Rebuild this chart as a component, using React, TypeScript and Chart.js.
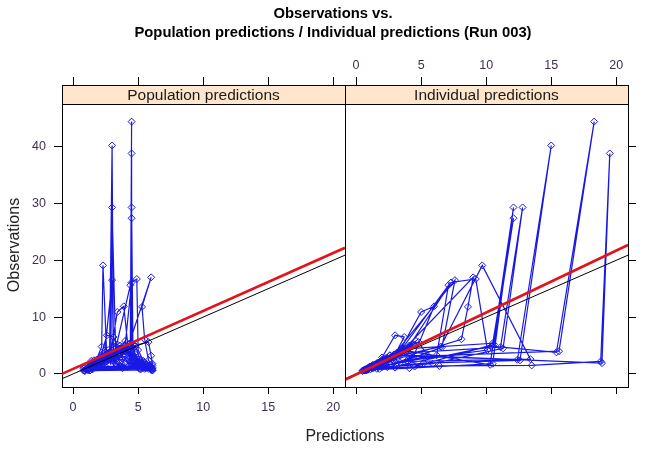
import React, { useEffect, useRef } from "react";
import { Chart, registerables } from "chart.js";

Chart.register(...registerables);

// ---- data (one line per subject, in data order) ----
const OBS = [
  0.6, 1.4, 2.5, 4.8, 19.1, 2.6, 2.2, 1.3,
  0.9, 1.7, 3.3, 2.5, 40.2, 2.4, 1.9, 1.2,
  1.3, 2.4, 4.2, 1.6, 29.3, 1.8, 1.0,
  0.7, 1.5, 2.9, 4.0, 44.4, 3.8, 4.9, 1.4, 0.9,
  1.0, 2.2, 3.4, 1.9, 38.8, 2.2, 1.5, 1.4, 1.1,
  0.8, 1.9, 3.6, 4.7, 29.3, 4.5, 1.8, 1.2,
  1.1, 2.3, 4.4, 5.4, 27.4, 5.2, 1.3, 0.9,
  0.6, 1.6, 3.1, 16.5, 4.7, 2.0, 1.2,
  1.2, 2.7, 5.0, 16.1, 16.7, 4.2, 2.3, 1.3,
  0.9, 2.1, 3.9, 17.0, 11.8, 6.1, 2.4, 1.5,
  0.7, 1.8, 3.7, 15.6, 3.3, 1.7, 1.0,
  1.0, 2.0, 3.8, 10.9, 11.9, 3.0, 1.4, 0.8,
  0.5, 1.3, 2.9, 6.8, 6.5, 2.6, 1.5, 0.9,
  1.2, 2.5, 4.3, 5.6, 3.2, 1.8, 1.1,
  0.8, 1.9, 3.4, 5.0, 3.9, 2.4, 1.6, 1.0,
  1.4, 2.8, 4.1, 3.6, 2.7, 1.9, 1.2, 0.7,
  0.6, 1.5, 2.6, 4.6, 3.1, 2.0, 1.3, 0.8,
  1.0, 2.3, 3.5, 2.9, 2.2, 1.6, 1.1, 0.6,
  0.9, 2.0, 3.2, 4.5, 3.5, 2.6, 1.7, 1.1,
  0.7, 1.6, 2.8, 3.9, 5.8, 3.0, 2.1, 1.4,
  1.3, 2.6, 3.7, 4.2, 3.3, 2.5, 1.6, 0.9,
  0.8, 1.8, 2.7, 3.1, 2.4, 1.8, 1.2, 0.7,
  1.1, 2.4, 3.9, 5.2, 4.1, 2.9, 2.0, 1.3,
];

const PRED = [
  0.9, 1.3, 1.8, 2.2, 2.3, 2.6, 3.1, 3.6,
  1.1, 1.6, 2.2, 2.8, 3.0, 3.1, 3.4, 3.9,
  1.4, 2.0, 2.7, 2.9, 3.0, 3.3, 3.8,
  1.2, 2.1, 3.3, 4.4, 4.5, 4.4, 4.8, 5.3, 5.8,
  1.5, 2.4, 3.6, 4.4, 4.5, 4.5, 5.0, 5.6, 6.1,
  1.0, 1.9, 3.5, 4.4, 4.5, 4.6, 5.1, 5.7,
  1.3, 2.2, 3.8, 4.4, 4.5, 4.6, 5.0, 5.5,
  0.8, 1.5, 2.4, 3.0, 3.1, 3.6, 4.2,
  1.6, 2.8, 4.0, 4.5, 4.9, 5.0, 5.4, 5.9,
  1.4, 2.5, 4.1, 6.0, 5.3, 5.5, 5.8, 6.1,
  1.1, 1.8, 3.2, 4.4, 4.5, 4.8, 5.3,
  1.2, 2.0, 2.9, 3.4, 3.9, 4.3, 4.7, 5.2,
  0.9, 1.5, 2.1, 2.6, 3.1, 3.8, 4.5, 5.1,
  1.7, 2.6, 3.5, 5.8, 6.0, 6.1, 5.9,
  1.0, 1.7, 2.7, 3.6, 4.0, 4.6, 5.1, 5.6,
  2.0, 2.9, 3.7, 4.2, 4.7, 5.2, 5.7, 6.1,
  1.3, 2.2, 3.0, 3.9, 4.3, 4.9, 5.4, 6.0,
  0.8, 1.4, 2.3, 3.2, 4.1, 4.8, 5.5, 6.1,
  1.1, 1.9, 2.8, 3.7, 4.4, 5.0, 5.6, 6.0,
  1.2, 1.8, 2.5, 3.3, 4.0, 4.7, 5.3, 5.9,
  1.0, 2.1, 3.0, 3.8, 4.6, 5.2, 5.7, 6.1,
  1.5, 2.3, 3.1, 3.9, 4.6, 5.1, 5.6, 6.0,
  0.9, 1.6, 2.5, 3.4, 4.2, 4.9, 5.5, 6.0,
];

const IPRED = [
  0.7, 1.2, 2.0, 6.5, 9.7, 13.4, 4.0, 1.6,
  0.8, 1.5, 2.6, 12.4, 15.0, 12.6, 5.2, 2.4,
  1.1, 2.1, 3.6, 10.3, 12.1, 10.5, 4.1,
  0.6, 1.4, 2.7, 15.6, 18.3, 15.4, 10.4, 3.1, 1.6,
  0.9, 1.9, 3.0, 18.9, 19.5, 18.8, 13.5, 6.4, 3.0,
  0.8, 1.8, 3.2, 11.1, 12.8, 11.3, 5.9, 2.0,
  1.0, 2.2, 3.8, 10.5, 12.1, 10.6, 4.5, 1.8,
  0.5, 1.3, 2.8, 7.6, 6.6, 3.4, 1.5,
  1.0, 2.4, 4.1, 7.3, 9.2, 10.1, 3.9, 1.7,
  0.8, 2.0, 3.5, 9.0, 8.6, 8.1, 2.9, 1.9,
  0.7, 1.7, 3.3, 7.1, 6.2, 2.6, 1.3,
  0.9, 1.8, 3.3, 5.0, 6.0, 4.4, 2.3, 1.1,
  0.5, 1.1, 2.0, 3.0, 3.7, 2.8, 1.6, 0.9,
  1.1, 2.3, 3.6, 4.8, 5.5, 3.1, 1.4,
  0.9, 1.6, 2.9, 4.2, 3.8, 2.5, 1.7, 1.2,
  1.3, 2.6, 3.7, 3.4, 2.6, 1.9, 1.3, 0.8,
  0.6, 1.5, 2.5, 4.0, 3.0, 2.1, 1.4, 0.9,
  1.0, 2.1, 3.2, 2.7, 2.1, 1.5, 1.0, 0.7,
  0.8, 1.7, 2.6, 3.6, 3.2, 2.3, 1.6, 1.0,
  0.9, 1.4, 2.3, 3.3, 4.6, 2.8, 1.9, 1.3,
  1.1, 2.2, 3.1, 3.7, 3.1, 2.4, 1.5, 0.9,
  0.7, 1.6, 2.4, 2.9, 2.3, 1.7, 1.2, 0.8,
  1.0, 2.0, 3.4, 4.4, 3.9, 2.7, 1.8, 1.2,
];

const X_TICKS = [0, 5, 10, 15, 20];
const Y_TICKS = [0, 10, 20, 30, 40];
const X_LIMITS = [-0.85, 20.9];
const Y_LIMITS = [-2.3, 47.5];
const POP_FIT = [0.88, 1.02]; // intercept, slope
const IND_FIT = [-0.1, 1.09];
const STRIP_LABELS = ["Population predictions", "Individual predictions"];
const TITLE_LINES = ["Observations vs.", "Population predictions / Individual predictions (Run 003)"];
const X_TITLE = "Predictions";
const Y_TITLE = "Observations";

// ---- styling / layout ----
const W = 648;
const H = 452;
const LEFT_AXIS_W = 62;
const RIGHT_AXIS_W = 20;
const TOP_H = 104;
const BOTTOM_H = 65;
const STRIP_H = 19;
const BLUE = "#1818e6";
const TICK_COLOR = "#3f3050";
const FONT = "'Liberation Sans', Arial, Helvetica, sans-serif";

const fitLine = (fit: number[]) =>
  X_LIMITS.map((x) => ({ x, y: fit[0] + fit[1] * x }));

function xScale(position: string, stack: string, weight: number, showLabels: boolean, tickLen: number, height: number, pad: number) {
  return {
    type: "linear",
    axis: "x",
    position,
    stack,
    weight,
    min: X_LIMITS[0],
    max: X_LIMITS[1],
    afterBuildTicks: (s: any) => {
      s.ticks = X_TICKS.map((v) => ({ value: v }));
    },
    afterFit: (s: any) => {
      s.height = height;
    },
    grid: { drawOnChartArea: false, drawTicks: true, tickLength: tickLen, color: "#000", tickColor: "#000", lineWidth: 1 },
    border: { display: true, color: "#000", width: 1 },
    ticks: { display: showLabels, padding: pad, color: TICK_COLOR, font: { size: 12.5, family: FONT }, maxRotation: 0, autoSkip: false },
  };
}

function yScale(position: string, showLabels: boolean, width: number) {
  return {
    type: "linear",
    axis: "y",
    position,
    min: Y_LIMITS[0],
    max: Y_LIMITS[1],
    afterBuildTicks: (s: any) => {
      s.ticks = Y_TICKS.map((v) => ({ value: v }));
    },
    afterFit: (s: any) => {
      s.width = width;
    },
    grid: { drawOnChartArea: false, drawTicks: true, tickLength: 8, color: "#000", tickColor: "#000", lineWidth: 1 },
    border: { display: true, color: "#000", width: 1 },
    ticks: { display: showLabels, padding: 8, color: TICK_COLOR, font: { size: 12.5, family: FONT } },
  };
}

const panelPlugin = {
  id: "panelStrips",
  afterDraw(chart: any) {
    const ctx = chart.ctx;
    const { top, bottom } = chart.chartArea;
    ctx.save();
    ["xLt", "xRt"].forEach((id) => {
      const s = chart.scales[id];
      ctx.fillStyle = "#ffe5cc";
      ctx.fillRect(s.left, top - STRIP_H, s.right - s.left, STRIP_H);
      ctx.strokeStyle = "#000";
      ctx.lineWidth = 1;
      ctx.strokeRect(Math.round(s.left) + 0.5, Math.round(top - STRIP_H) + 0.5, Math.round(s.right - s.left), STRIP_H);
    });
    const xr = chart.scales.xR;
    ctx.beginPath();
    ctx.moveTo(Math.round(xr.left) + 0.5, top - STRIP_H);
    ctx.lineTo(Math.round(xr.left) + 0.5, bottom);
    ctx.strokeStyle = "#000";
    ctx.lineWidth = 1;
    ctx.stroke();
    ctx.restore();
  },
};

export default function App() {
  const canvasRef = useRef<HTMLCanvasElement | null>(null);

  useEffect(() => {
    if (!canvasRef.current) return;
    const blueStyle = {
      showLine: true,
      borderColor: BLUE,
      borderWidth: 1.2,
      pointStyle: "rectRot",
      pointRadius: 3.5,
      pointBorderColor: BLUE,
      pointBackgroundColor: "rgba(0,0,0,0)",
      pointBorderWidth: 1,
      yAxisID: "y",
    };
    const redStyle = { showLine: true, borderColor: "#e3121b", borderWidth: 2.6, pointRadius: 0, yAxisID: "y" };
    const blackStyle = { showLine: true, borderColor: "#000", borderWidth: 1, pointRadius: 0, yAxisID: "y" };

    const chart = new Chart(canvasRef.current, {
      type: "scatter",
      data: {
        datasets: [
          { ...redStyle, xAxisID: "xL", data: fitLine(POP_FIT) },
          { ...redStyle, xAxisID: "xR", data: fitLine(IND_FIT) },
          { ...blackStyle, xAxisID: "xL", data: fitLine([0, 1]) },
          { ...blackStyle, xAxisID: "xR", data: fitLine([0, 1]) },
          { ...blueStyle, xAxisID: "xL", data: OBS.map((o, i) => ({ x: PRED[i], y: o })) },
          { ...blueStyle, xAxisID: "xR", data: OBS.map((o, i) => ({ x: IPRED[i], y: o })) },
        ] as any,
      },
      options: {
        animation: false,
        responsive: false,
        maintainAspectRatio: false,
        events: [],
        layout: { padding: 0 },
        plugins: { legend: { display: false }, tooltip: { enabled: false }, title: { display: false } },
        scales: {
          xL: xScale("bottom", "bot", 0, true, 7, BOTTOM_H, 6),
          xR: xScale("bottom", "bot", 1, false, 7, BOTTOM_H, 6),
          xLt: xScale("top", "top", 1, false, STRIP_H + 8, TOP_H, 4),
          xRt: xScale("top", "top", 0, true, STRIP_H + 8, TOP_H, 4),
          y: yScale("left", true, LEFT_AXIS_W),
          y2: yScale("right", false, RIGHT_AXIS_W),
        } as any,
      },
      plugins: [panelPlugin],
    });
    return () => chart.destroy();
  }, []);

  const text: React.CSSProperties = { position: "absolute", fontFamily: FONT, whiteSpace: "nowrap" };

  return (
    <div style={{ position: "fixed", left: 0, top: 0, width: W, height: H, background: "#fff", overflow: "hidden" }}>
      <canvas ref={canvasRef} width={W} height={H} style={{ position: "absolute", left: 0, top: 0, width: W, height: H }} />
      <div style={{ ...text, left: 0, width: 666, top: 4, textAlign: "center", fontWeight: "bold", fontSize: 14.8, lineHeight: "19px", color: "#000" }}>
        <div>{TITLE_LINES[0]}</div>
        <div>{TITLE_LINES[1]}</div>
      </div>
      <div style={{ ...text, left: 62, width: 283, top: 85, height: STRIP_H, lineHeight: STRIP_H + "px", textAlign: "center", fontSize: 15.5, color: "#1a1a1a" }}>
        {STRIP_LABELS[0]}
      </div>
      <div style={{ ...text, left: 345, width: 283, top: 85, height: STRIP_H, lineHeight: STRIP_H + "px", textAlign: "center", fontSize: 15.5, color: "#1a1a1a" }}>
        {STRIP_LABELS[1]}
      </div>
      <div style={{ ...text, left: 245, width: 200, top: 427, textAlign: "center", fontSize: 16, color: "#222" }}>{X_TITLE}</div>
      <div
        style={{
          ...text,
          left: 14,
          top: 245,
          width: 200,
          marginLeft: -100,
          textAlign: "center",
          fontSize: 16,
          lineHeight: "18px",
          marginTop: -9,
          color: "#222",
          transform: "rotate(-90deg)",
        }}
      >
        {Y_TITLE}
      </div>
    </div>
  );
}
